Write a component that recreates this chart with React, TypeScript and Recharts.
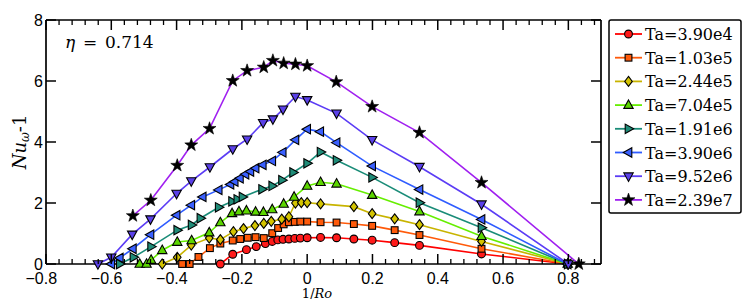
import React from 'react';
import { LineChart, Line, XAxis, YAxis } from 'recharts';

// ---------- data ----------
const names = ['Ta=3.90e4', 'Ta=1.03e5', 'Ta=2.44e5', 'Ta=7.04e5', 'Ta=1.91e6', 'Ta=3.90e6', 'Ta=9.52e6', 'Ta=2.39e7'];

const x1 = [-0.266, -0.228, -0.186, -0.156, -0.128, -0.107, -0.09, -0.074, -0.056, -0.038, -0.021, 0.0, 0.041, 0.09, 0.143, 0.199, 0.268, 0.344, 0.534, 0.798];
const y1 = [0, 0.32, 0.47, 0.57, 0.67, 0.74, 0.79, 0.81, 0.82, 0.84, 0.85, 0.86, 0.87, 0.86, 0.82, 0.78, 0.70, 0.61, 0.33, 0];

const x2 = [-0.383, -0.36, -0.333, -0.298, -0.266, -0.228, -0.205, -0.182, -0.158, -0.133, -0.107, -0.089, -0.072, -0.056, -0.038, -0.021, 0.0, 0.041, 0.09, 0.143, 0.199, 0.268, 0.344, 0.534, 0.798];
const y2 = [0, 0, 0.23, 0.52, 0.67, 0.77, 0.82, 0.86, 0.88, 0.85, 1.01, 1.18, 1.3, 1.37, 1.38, 1.39, 1.39, 1.37, 1.36, 1.31, 1.25, 1.11, 0.95, 0.5, 0];

const x3 = [-0.444, -0.398, -0.355, -0.3, -0.266, -0.226, -0.195, -0.16, -0.133, -0.11, -0.078, -0.056, -0.036, -0.018, 0.0, 0.041, 0.143, 0.199, 0.268, 0.344, 0.534, 0.798];
const y3 = [0, 0.22, 0.62, 0.85, 0.8, 1.06, 1.16, 1.26, 1.33, 1.4, 1.47, 1.55, 2.0, 2.01, 2.01, 1.97, 1.88, 1.65, 1.48, 1.29, 0.74, 0];

const x4 = [-0.513, -0.492, -0.478, -0.444, -0.398, -0.354, -0.3, -0.266, -0.23, -0.209, -0.186, -0.158, -0.134, -0.107, -0.072, -0.04, 0.0, 0.041, 0.09, 0.199, 0.344, 0.534, 0.798];
const y4 = [0, 0, 0.13, 0.45, 0.72, 0.77, 1.03, 1.36, 1.66, 1.72, 1.75, 1.71, 1.7, 1.79, 1.97, 2.2, 2.56, 2.68, 2.63, 2.26, 1.72, 0.91, 0];

const x5 = [-0.574, -0.532, -0.478, -0.398, -0.354, -0.327, -0.271, -0.23, -0.214, -0.198, -0.138, -0.107, -0.077, -0.043, 0.0, 0.041, 0.09, 0.199, 0.344, 0.534, 0.798];
const y5 = [0, 0.22, 0.57, 1.11, 1.28, 1.5, 1.86, 2.05, 2.12, 2.2, 2.45, 2.56, 2.75, 3.0, 3.3, 3.67, 3.4, 2.84, 2.01, 1.19, 0];

const x6 = [-0.6, -0.574, -0.534, -0.48, -0.4, -0.355, -0.32, -0.271, -0.235, -0.222, -0.206, -0.189, -0.174, -0.158, -0.136, -0.107, -0.075, -0.036, 0.0, 0.04, 0.09, 0.199, 0.344, 0.534, 0.798];
const y6 = [0, 0.2, 0.5, 0.96, 1.6, 1.93, 2.2, 2.43, 2.61, 2.7, 2.81, 2.94, 3.03, 3.14, 3.25, 3.38, 3.66, 4.07, 4.42, 4.34, 3.98, 3.21, 2.44, 1.46, 0];

const x7 = [-0.641, -0.6, -0.536, -0.48, -0.4, -0.355, -0.298, -0.228, -0.184, -0.135, -0.105, -0.074, -0.036, 0.0, 0.09, 0.199, 0.344, 0.534, 0.8];
const y7 = [0, 0.22, 0.97, 1.47, 2.31, 2.72, 3.18, 3.77, 4.09, 4.63, 4.75, 5.07, 5.49, 5.38, 4.94, 4.07, 3.19, 1.96, 0];

const x8 = [-0.534, -0.479, -0.398, -0.355, -0.299, -0.228, -0.184, -0.133, -0.105, -0.072, -0.036, 0.0, 0.089, 0.199, 0.344, 0.534, 0.832];
const y8 = [1.58, 2.09, 3.23, 3.9, 4.44, 6.01, 6.34, 6.45, 6.67, 6.58, 6.55, 6.5, 5.97, 5.16, 4.31, 2.67, 0];

const seriesX = [x1, x2, x3, x4, x5, x6, x7, x8];
const seriesY = [y1, y2, y3, y4, y5, y6, y7, y8];

const xMajorTicks = [-0.8, -0.6, -0.4, -0.2, 0, 0.2, 0.4, 0.6, 0.8];
const xMinorTicks = [-0.8, -0.76, -0.72, -0.68, -0.64, -0.6, -0.56, -0.52, -0.48, -0.44, -0.4, -0.36, -0.32, -0.28, -0.24, -0.2, -0.16, -0.12, -0.08, -0.04, 0, 0.04, 0.08, 0.12, 0.16, 0.2, 0.24, 0.28, 0.32, 0.36, 0.4, 0.44, 0.48, 0.52, 0.56, 0.6, 0.64, 0.68, 0.72, 0.76, 0.8, 0.84, 0.88];
const yTicks = [0, 2, 4, 6, 8];

// ---------- styles ----------
const colors = ['#ff0000', '#ff5a0a', '#c8b400', '#66ee00', '#1a8c78', '#2f5cff', '#5b3cf5', '#a020f0'];
const markerFills = ['#ff1a1a', '#ff5a0a', '#d4c400', '#5cd600', '#1f8c78', '#3a60ff', '#5a40e8', '#000000'];
type Shape = 'circle' | 'square' | 'diamond' | 'up' | 'right' | 'left' | 'down' | 'star';
const shapes: Shape[] = ['circle', 'square', 'diamond', 'up', 'right', 'left', 'down', 'star'];

const SANS = 'Liberation Sans, Arial, sans-serif';
const SERIF = 'DejaVu Serif, Liberation Serif, serif';

function starPoints(cx: number, cy: number, R: number, r: number) {
  const pts: string[] = [];
  for (let i = 0; i < 10; i++) {
    const a = -Math.PI / 2 + (i * Math.PI) / 5;
    const rad = i % 2 === 0 ? R : r;
    pts.push(`${cx + rad * Math.cos(a)},${cy + rad * Math.sin(a)}`);
  }
  return pts.join(' ');
}

function Marker({ shape, cx, cy, fill }: { shape: Shape; cx: number; cy: number; fill: string }) {
  const common = { fill, stroke: '#000', strokeWidth: 1.1 };
  switch (shape) {
    case 'circle':
      return <circle cx={cx} cy={cy} r={3.9} {...common} />;
    case 'square':
      return <rect x={cx - 3.4} y={cy - 3.4} width={6.8} height={6.8} {...common} />;
    case 'diamond':
      return <polygon points={`${cx},${cy - 5} ${cx + 3.8},${cy} ${cx},${cy + 5} ${cx - 3.8},${cy}`} {...common} />;
    case 'up':
      return <polygon points={`${cx},${cy - 5.2} ${cx + 4.7},${cy + 3.3} ${cx - 4.7},${cy + 3.3}`} {...common} />;
    case 'down':
      return <polygon points={`${cx},${cy + 5.2} ${cx + 4.7},${cy - 3.3} ${cx - 4.7},${cy - 3.3}`} {...common} />;
    case 'right':
      return <polygon points={`${cx + 5.2},${cy} ${cx - 3.3},${cy - 4.7} ${cx - 3.3},${cy + 4.7}`} {...common} />;
    case 'left':
      return <polygon points={`${cx - 5.2},${cy} ${cx + 3.3},${cy - 4.7} ${cx + 3.3},${cy + 4.7}`} {...common} />;
    case 'star':
      return <polygon points={starPoints(cx, cy, 6.8, 2.7)} fill="#000" stroke="#000" strokeWidth={0.6} />;
  }
  return null;
}

const isMajor = (v: number) => xMajorTicks.some((m) => Math.abs(m - v) < 1e-6);

const fmt = (v: number) => {
  if (Math.abs(v) < 1e-9) return '0';
  return (v < 0 ? '\u2212' : '') + Math.abs(v).toFixed(1);
};

const BottomTick = (p: any) => {
  const { x, y, payload } = p;
  const v = payload.value;
  if (!isMajor(v)) return <line x1={x} y1={y} x2={x} y2={y - 5} stroke="#000" strokeWidth={1.3} />;
  const neg = v < -1e-9;
  return (
    <g>
      <line x1={x} y1={y} x2={x} y2={y - 10} stroke="#000" strokeWidth={1.5} />
      <text x={neg ? x - 4.7 : x} y={y + 20} textAnchor="middle" style={{ fontFamily: SANS }} fontSize={16} fill="#000">
        {fmt(v)}
      </text>
    </g>
  );
};
const TopTick = (p: any) => {
  const len = isMajor(p.payload.value) ? 10 : 5;
  return <line x1={p.x} y1={p.y} x2={p.x} y2={p.y + len} stroke="#000" strokeWidth={isMajor(p.payload.value) ? 1.5 : 1.3} />;
};
const LeftTick = (p: any) => {
  const { x, y, payload } = p;
  return (
    <g>
      <line x1={x} y1={y} x2={x + 10} y2={y} stroke="#000" strokeWidth={1.5} />
      <text x={x - 3} y={y + 5.5} textAnchor="end" style={{ fontFamily: SANS }} fontSize={16} fill="#000">
        {String(payload.value)}
      </text>
    </g>
  );
};
const RightTick = (p: any) => <line x1={p.x} y1={p.y} x2={p.x - 10} y2={p.y} stroke="#000" strokeWidth={1.5} />;

const AX = { stroke: '#000', strokeWidth: 1.7 };

export default function App() {
  const data = seriesX.map((xs, i) => xs.map((x, j) => ({ x, y: seriesY[i][j] })));
  const legendTop = 34;
  const legendStep = 23.7;
  return (
    <div style={{ position: 'absolute', left: 0, top: 0, width: 747, height: 306, background: '#fff' }}>
      <LineChart width={747} height={306} margin={{ top: 19, right: 145, bottom: 41, left: 45 }}>
        <XAxis xAxisId="b" type="number" dataKey="x" domain={[-0.8, 0.9]} ticks={xMinorTicks} interval={0}
          height={1} tickSize={0} tickMargin={0} tickLine={false} axisLine={AX} tick={(p: any) => <BottomTick {...p} />} />
        <XAxis xAxisId="t" orientation="top" type="number" dataKey="x" domain={[-0.8, 0.9]} allowDataOverflow ticks={xMinorTicks} interval={0}
          height={1} tickSize={0} tickMargin={0} tickLine={false} axisLine={AX} tick={(p: any) => <TopTick {...p} />} />
        <YAxis yAxisId="l" type="number" domain={[0, 8]} ticks={yTicks} interval={0} width={1} tickSize={0} tickMargin={0}
          tickLine={false} axisLine={AX} tick={(p: any) => <LeftTick {...p} />} />
        <YAxis yAxisId="r" orientation="right" type="number" domain={[0, 8]} allowDataOverflow ticks={yTicks} interval={0} width={1}
          tickSize={0} tickMargin={0} tickLine={false} axisLine={AX} tick={(p: any) => <RightTick {...p} />} />
        {data.map((d, i) => (
          <Line
            key={names[i]}
            data={d}
            dataKey="y"
            xAxisId="b"
            yAxisId="l"
            type="linear"
            stroke={colors[i]}
            strokeWidth={1.6}
            isAnimationActive={false}
            dot={(p: any) =>
              p.cx == null || p.cy == null ? (
                <g key={`${i}-${p.index}`} />
              ) : (
                <g key={`${i}-${p.index}`}>
                  <Marker shape={shapes[i]} cx={p.cx} cy={p.cy} fill={markerFills[i]} />
                </g>
              )
            }
            activeDot={false}
          />
        ))}
      </LineChart>
      <svg width={747} height={306} style={{ position: 'absolute', left: 0, top: 0, pointerEvents: 'none' }}>
        {/* eta annotation */}
        <text y={47.5} style={{ fontFamily: SERIF }} fontSize={17} fill="#000">
          <tspan x={65} fontStyle="italic">η</tspan>
          <tspan x={83}>=</tspan>
          <tspan x={105}>0.714</tspan>
        </text>
        {/* axis labels */}
        <text x={317} y={298} textAnchor="middle" style={{ fontFamily: SERIF }} fontSize={13} fill="#000">
          1/<tspan fontStyle="italic">Ro</tspan>
        </text>
        <text transform="translate(26 142) rotate(-90)" textAnchor="middle" style={{ fontFamily: SERIF }} fontSize={18} fill="#000">
          <tspan fontStyle="italic">Nu</tspan>
          <tspan fontStyle="italic" fontSize={12} dy={3}>ω</tspan>
          <tspan dy={-3}>-1</tspan>
        </text>
        {/* legend */}
        <rect x={609} y={20} width={132} height={193} rx={2} fill="#fff" stroke="#000" strokeWidth={1.5} />
        {names.map((n, i) => {
          const y = legendTop + i * legendStep;
          return (
            <g key={n}>
              <line x1={615} y1={y} x2={642} y2={y} stroke={colors[i]} strokeWidth={1.8} />
              <Marker shape={shapes[i]} cx={628.5} cy={y} fill={markerFills[i]} />
              <text x={645} y={y + 6} style={{ fontFamily: SERIF }} fontSize={16} fill="#000">
                {n}
              </text>
            </g>
          );
        })}
      </svg>
    </div>
  );
}
